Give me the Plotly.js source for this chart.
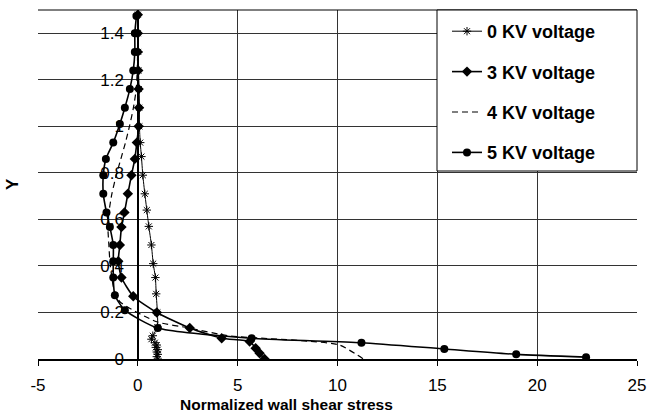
<!DOCTYPE html>
<html>
<head>
<meta charset="utf-8">
<script src="https://cdn.plot.ly/plotly-3.0.1.min.js"></script>
<style>html,body{margin:0;padding:0;background:#fff;}#chart{width:649px;height:415px;}</style>
</head>
<body>
<div id="chart"></div>
<script>
// Series names
var seriesNames = ['0 KV voltage', '3 KV voltage', '4 KV voltage', '5 KV voltage'];

// 0 KV voltage
var kv0X = [0.0, 0.0, 0.02, 0.03, 0.05, 0.07, 0.08, 0.12, 0.18, 0.25, 0.35, 0.45, 0.55, 0.68, 0.77, 0.88, 0.92, 0.98, 0.98, 0.75, 0.68, 0.85, 0.95, 0.9, 1.0, 0.95, 1.0, 0.95, 1.0];
var kv0Y = [1.48, 1.40, 1.32, 1.24, 1.16, 1.08, 1.0, 0.93, 0.87, 0.79, 0.71, 0.64, 0.57, 0.49, 0.41, 0.35, 0.28, 0.2, 0.137, 0.1, 0.085, 0.07, 0.06, 0.05, 0.04, 0.03, 0.02, 0.01, 0.0];

// 3 KV voltage
var kv3X = [0.0, 0.0, 0.0, 0.02, 0.04, 0.06, 0.04, -0.05, -0.15, -0.32, -0.5, -0.67, -0.82, -0.9, -0.98, -0.82, -0.23, 0.95, 2.6, 4.2, 5.6, 5.9, 6.1, 6.35];
var kv3Y = [1.48, 1.40, 1.32, 1.24, 1.16, 1.08, 1.0, 0.93, 0.86, 0.79, 0.71, 0.63, 0.567, 0.49, 0.42, 0.35, 0.27, 0.2, 0.133, 0.089, 0.075, 0.046, 0.025, 0.0];

// 4 KV voltage
var kv4X = [0.0, 0.0, -0.01, -0.03, -0.08, -0.22, -0.42, -0.62, -0.85, -1.08, -1.3, -1.45, -1.5, -1.45, -1.4, -1.3, -1.2, -0.9, 0.95, 2.6, 4.5, 6.5, 8.5, 10.1, 11.3];
var kv4Y = [1.48, 1.40, 1.32, 1.24, 1.16, 1.08, 1.0, 0.93, 0.86, 0.79, 0.71, 0.63, 0.567, 0.49, 0.42, 0.35, 0.3, 0.246, 0.16, 0.133, 0.1, 0.088, 0.077, 0.06, 0.0];

// 5 KV voltage
var kv5X = [-0.07, -0.15, -0.15, -0.23, -0.4, -0.65, -0.9, -1.23, -1.6, -1.73, -1.73, -1.57, -1.4, -1.23, -1.23, -1.23, -1.15, -0.65, 1.0, 5.7, 11.2, 15.35, 18.95, 22.45];
var kv5Y = [1.474, 1.40, 1.32, 1.24, 1.16, 1.08, 1.01, 0.93, 0.86, 0.79, 0.71, 0.63, 0.567, 0.49, 0.42, 0.35, 0.274, 0.21, 0.133, 0.089, 0.07, 0.043, 0.02, 0.008];

// Axis ticks
var xTicks = [-5, 0, 5, 10, 15, 20, 25];
var yTicks = [0, 0.2, 0.4, 0.6, 0.8, 1, 1.2, 1.4];

var lineShape = {shape: 'spline', smoothing: 0.6};

var traces = [
  {x: kv0X, y: kv0Y, name: seriesNames[0], legendgroup: 'a', mode: 'lines+markers',
   line: Object.assign({color: '#000', width: 1}, lineShape),
   marker: {symbol: 'asterisk-open', size: 7, color: '#000', line: {color: '#000', width: 1}}},
  {x: kv3X, y: kv3Y, name: seriesNames[1], legendgroup: 'b', mode: 'lines+markers',
   line: Object.assign({color: '#000', width: 1.6}, lineShape),
   marker: {symbol: 'diamond', size: 8, color: '#000'}},
  {x: kv4X, y: kv4Y, name: seriesNames[2], legendgroup: 'c', mode: 'lines',
   line: Object.assign({color: '#000', width: 1.2, dash: '6px,4px'}, lineShape)},
  {x: kv5X, y: kv5Y, name: seriesNames[3], legendgroup: 'd', mode: 'lines+markers',
   line: Object.assign({color: '#000', width: 1.6}, lineShape),
   marker: {symbol: 'circle', size: 8, color: '#000'}}
];

var L = 38, R = 637, T = 10, B = 359;
var W = R - L, H = B - T;
function px2x(p) { return (p - L) / W; }
function px2y(p) { return (B - p) / H; }

var layout = {
  width: 649, height: 415,
  margin: {l: L, r: 649 - R, t: T, b: 415 - B, pad: 0},
  paper_bgcolor: '#fff', plot_bgcolor: '#fff',
  font: {family: 'Liberation Sans, Arial, sans-serif', color: '#000', size: 17},
  showlegend: true,
  xaxis: {
    range: [-5, 25], tickvals: xTicks, ticktext: xTicks.map(String),
    showgrid: true, gridcolor: '#333', gridwidth: 1,
    zeroline: true, zerolinecolor: '#000', zerolinewidth: 2,
    showline: true, linecolor: '#000', linewidth: 2,
    ticks: 'outside', ticklen: 5, tickcolor: '#000', tickwidth: 1,
    tickfont: {size: 17}, ticklabelstandoff: 5, fixedrange: true
  },
  yaxis: {
    range: [0, 1.5], tickvals: yTicks, ticktext: yTicks.map(String),
    showgrid: true, gridcolor: '#333', gridwidth: 1,
    zeroline: false, showline: false,
    anchor: 'free', position: px2x(135),
    ticks: '', tickfont: {size: 17}, ticklabelstandoff: 11,
    layer: 'below traces', fixedrange: true
  },
  shapes: [
    {type: 'line', xref: 'paper', yref: 'paper', x0: 0, x1: 1, y0: 1, y1: 1, line: {color: '#000', width: 1}},
    {type: 'rect', xref: 'paper', yref: 'paper', x0: px2x(437), x1: 1, y0: px2y(171), y1: 1,
     fillcolor: '#fff', line: {color: '#000', width: 1}, layer: 'above'}
  ],
  legend: {
    x: px2x(447), xanchor: 'left', y: px2y(13), yanchor: 'top',
    bgcolor: 'rgba(0,0,0,0)', borderwidth: 0,
    font: {size: 18, weight: 700, family: 'Liberation Sans, Arial, sans-serif'},
    traceorder: 'grouped', tracegroupgap: 14, itemwidth: 30
  },
  annotations: [
    {text: 'Normalized wall shear stress', xref: 'paper', yref: 'paper', x: px2x(286), y: px2y(404),
     xanchor: 'center', yanchor: 'middle', showarrow: false, font: {size: 15.5, weight: 700}},
    {text: 'Y', xref: 'paper', yref: 'paper', x: px2x(12), y: px2y(184), textangle: -90,
     xanchor: 'center', yanchor: 'middle', showarrow: false, font: {size: 17, weight: 700}}
  ]
};

Plotly.newPlot('chart', traces, layout, {displayModeBar: false, staticPlot: true});
</script>
</body>
</html>
